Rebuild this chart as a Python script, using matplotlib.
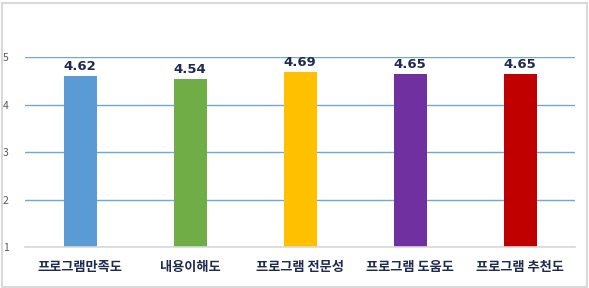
import matplotlib
matplotlib.use("Agg")
import matplotlib.pyplot as plt
from matplotlib.patches import Rectangle

plt.rcParams['font.family'] = ['Noto Sans CJK KR', 'DejaVu Sans']

categories = ["프로그램만족도", "내용이해도", "프로그램 전문성", "프로그램 도움도", "프로그램 추천도"]
values = [4.62, 4.54, 4.69, 4.65, 4.65]
colors = ["#5B9BD5", "#70AD47", "#FFC000", "#7030A0", "#C00000"]
yticks = [1, 2, 3, 4, 5]

W, H = 589, 288
fig = plt.figure(figsize=(W/100, H/100), dpi=100)
fig.patch.set_facecolor("white")
fig.patches.append(Rectangle((1.5/W, 1.5/H), (W-4)/W, (H-4)/H, transform=fig.transFigure,
                             fill=False, edgecolor="#D9D9D9", linewidth=1.5))

ax = fig.add_axes([25/W, (H-247)/H, 550/W, (247-57.5)/H])
x = list(range(len(categories)))
ax.bar(x, [v - 1 for v in values], bottom=1, width=0.3, color=colors, zorder=3)
for xi, v in zip(x, values):
    ax.text(xi, v + 0.06, f"{v:.2f}", ha="center", va="bottom", fontsize=9.5,
            fontweight="bold", color="#1F2A4F", clip_on=False, family="DejaVu Sans")

ax.set_xlim(-0.5, len(categories) - 0.5)
ax.set_ylim(1, 5)
ax.set_yticks(yticks)
ax.set_yticklabels([str(t) for t in yticks], fontsize=7.5, color="#595959")
ax.set_xticks(x)
ax.set_xticklabels(categories, fontsize=9.5, color="#1F2A4F", fontweight="bold")
ax.tick_params(axis="both", length=0)
ax.tick_params(axis="y", pad=12)
ax.tick_params(axis="x", pad=9)
ax.yaxis.grid(True, color="#70A6DA", linewidth=1.0, zorder=0)
for s in ["top", "right", "left"]:
    ax.spines[s].set_visible(False)
ax.spines["bottom"].set_color("#D9D9D9")
ax.spines["bottom"].set_linewidth(1.2)
ax.spines["bottom"].set_zorder(4)

fig.savefig("out.png", dpi=100)
